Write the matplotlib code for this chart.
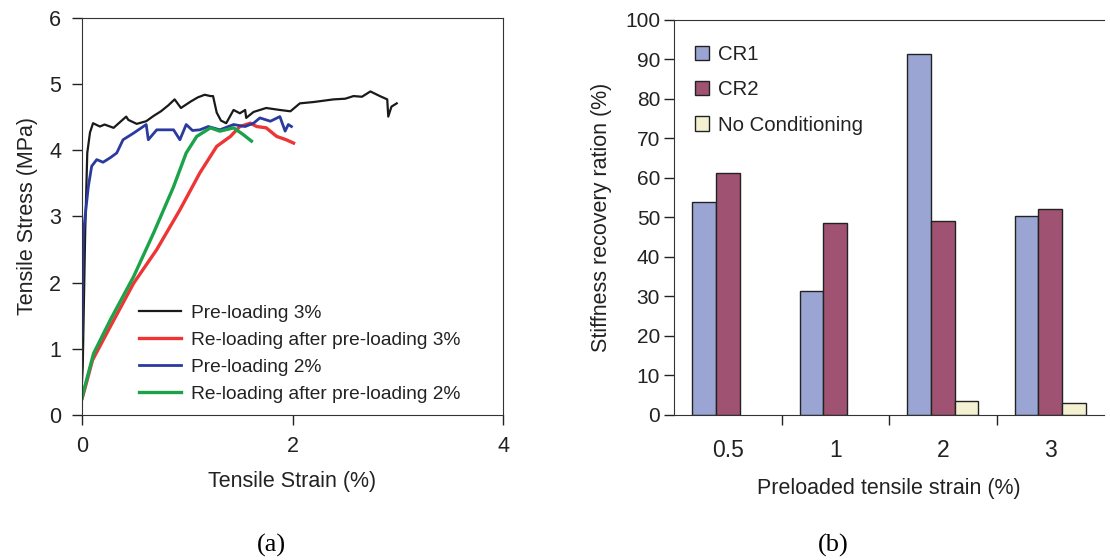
import numpy as np
import matplotlib.pyplot as plt
from matplotlib.patches import Patch

plt.rcParams['font.family'] = ['Liberation Sans', 'DejaVu Sans']

# (a) stress-strain curves
pre3_strain = [0.0, 0.007, 0.03, 0.05, 0.076, 0.105, 0.17, 0.215, 0.3, 0.42, 0.44, 0.52,
               0.61, 0.68, 0.75, 0.82, 0.88, 0.94, 1.035, 1.1, 1.166, 1.22, 1.245, 1.28,
               1.32, 1.37, 1.44, 1.5, 1.55, 1.56, 1.63, 1.75, 1.88, 1.98, 2.07, 2.2,
               2.39, 2.5, 2.58, 2.66, 2.74, 2.83, 2.9, 2.91, 2.94, 2.99]
pre3_stress = [0.5, 0.73, 2.75, 3.96, 4.27, 4.41, 4.36, 4.39, 4.34, 4.51, 4.46, 4.40,
               4.44, 4.52, 4.59, 4.68, 4.77, 4.64, 4.74, 4.80, 4.84, 4.82, 4.82, 4.57,
               4.45, 4.41, 4.61, 4.56, 4.61, 4.49, 4.58, 4.64, 4.61, 4.59, 4.71, 4.73,
               4.77, 4.78, 4.82, 4.81, 4.89, 4.82, 4.77, 4.51, 4.66, 4.71]

re3_strain = [0.0, 0.007, 0.1, 0.27, 0.49, 0.71, 0.93, 1.12, 1.28, 1.41, 1.5, 1.6,
              1.66, 1.75, 1.85, 1.94, 2.01]
re3_stress = [0.25, 0.28, 0.83, 1.34, 1.99, 2.50, 3.10, 3.66, 4.06, 4.21, 4.36, 4.41,
              4.36, 4.34, 4.21, 4.16, 4.11]

pre2_strain = [0.0, 0.013, 0.06, 0.092, 0.14, 0.2, 0.27, 0.33, 0.39, 0.49, 0.61, 0.63,
               0.71, 0.87, 0.93, 0.99, 1.05, 1.12, 1.2, 1.31, 1.44, 1.55, 1.63, 1.69,
               1.79, 1.88, 1.93, 1.96, 1.99]
pre2_stress = [1.2, 2.75, 3.45, 3.76, 3.86, 3.82, 3.89, 3.96, 4.16, 4.26, 4.39, 4.16,
               4.31, 4.31, 4.16, 4.39, 4.30, 4.31, 4.36, 4.31, 4.39, 4.36, 4.41, 4.49,
               4.44, 4.51, 4.29, 4.39, 4.36]

re2_strain = [0.0, 0.007, 0.11, 0.27, 0.49, 0.68, 0.87, 0.99, 1.09, 1.22, 1.31, 1.44,
              1.53, 1.61]
re2_stress = [0.25, 0.31, 0.93, 1.44, 2.09, 2.75, 3.45, 3.96, 4.21, 4.34, 4.29, 4.34,
              4.24, 4.14]

# (b) stiffness recovery bars
strain_labels = ['0.5', '1', '2', '3']
cr1 = [53.8, 31.3, 91.2, 50.2]
cr2 = [61.3, 48.5, 49.0, 52.1]
no_cond = [0, 0, 3.5, 3.1]

txt = '#222222'
fig = plt.figure(figsize=(11.1, 5.6), dpi=100)

# ---- panel (a)
ax1 = fig.add_axes([82 / 1110, 145 / 560, 421 / 1110, 397 / 560])
ax1.plot(pre3_strain, pre3_stress, color='#1a1a1a', lw=1.6, label='Pre-loading 3%')
ax1.plot(re3_strain, re3_stress, color='#ee3535', lw=2.4, label='Re-loading after pre-loading 3%')
ax1.plot(pre2_strain, pre2_stress, color='#2a3a9e', lw=2.0, label='Pre-loading 2%')
ax1.plot(re2_strain, re2_stress, color='#1aa34a', lw=2.4, label='Re-loading after pre-loading 2%')
ax1.set_xlim(0, 4)
ax1.set_ylim(0, 6)
ax1.set_xticks([0, 2, 4])
ax1.set_yticks(range(7))
ax1.tick_params(direction='out', length=7, width=1, labelsize=15.5, colors=txt, pad=8)
for s in ax1.spines.values():
    s.set_color('#333333')
ax1.set_xlabel('Tensile Strain (%)', fontsize=15.5, color=txt, labelpad=10)
ax1.set_ylabel('Tensile Stress (MPa)', fontsize=15.5, color=txt, labelpad=8)
leg1 = ax1.legend(loc='lower left', bbox_to_anchor=(0.095, -0.012), frameon=False,
                  fontsize=13.8, handlelength=2.2, labelspacing=0.5, handletextpad=0.5)
for t in leg1.get_texts():
    t.set_color(txt)

# ---- panel (b)
ax2 = fig.add_axes([674 / 1110, 145 / 560, 430 / 1110, 395.5 / 560])
x = np.arange(len(strain_labels)) + 0.5
w = 0.22
ax2.bar(x - w, cr1, w, color='#9aa5d3', edgecolor='#222222', lw=1.0)
ax2.bar(x, cr2, w, color='#a05272', edgecolor='#222222', lw=1.0)
nc = np.array(no_cond, dtype=float)
shown = nc > 0
ax2.bar((x + w)[shown], nc[shown], w, color='#f3f1d2', edgecolor='#222222', lw=1.0)
ax2.set_xlim(0, 4)
ax2.set_ylim(0, 100)
ax2.set_yticks(range(0, 101, 10))
ax2.set_xticks([1, 2, 3])
ax2.set_xticklabels([])
ax2.set_xticks(x, minor=True)
ax2.set_xticklabels(strain_labels, minor=True)
ax2.tick_params(axis='x', which='minor', length=0, labelsize=16.5, colors=txt, pad=17)
ax2.tick_params(axis='x', which='major', direction='out', length=7, width=1, colors=txt)
ax2.tick_params(axis='y', direction='out', length=7, width=1, labelsize=15, colors=txt, pad=3)
ax2.spines['right'].set_visible(False)
for s in ax2.spines.values():
    s.set_color('#333333')
ax2.set_xlabel('Preloaded tensile strain (%)', fontsize=15.5, color=txt, labelpad=12)
ax2.set_ylabel('Stiffness recovery ration (%)', fontsize=15.5, color=txt, labelpad=9)
handles = [Patch(facecolor='#9aa5d3', edgecolor='#222222', label='CR1'),
           Patch(facecolor='#a05272', edgecolor='#222222', label='CR2'),
           Patch(facecolor='#f3f1d2', edgecolor='#222222', label='No Conditioning')]
leg2 = ax2.legend(handles=handles, loc='upper left', bbox_to_anchor=(0.005, 0.982),
                  frameon=False, fontsize=14.7, handlelength=0.7, handleheight=0.7,
                  labelspacing=0.8, handletextpad=0.45)
for t in leg2.get_texts():
    t.set_color(txt)

# captions
fig.text(271 / 1110, 1 - 545 / 560, '(a)', ha='center', va='center', fontsize=19,
         family='Liberation Serif')
fig.text(833 / 1110, 1 - 545 / 560, '(b)', ha='center', va='center', fontsize=19,
         family='Liberation Serif')

fig.savefig('out.png', dpi=100)
